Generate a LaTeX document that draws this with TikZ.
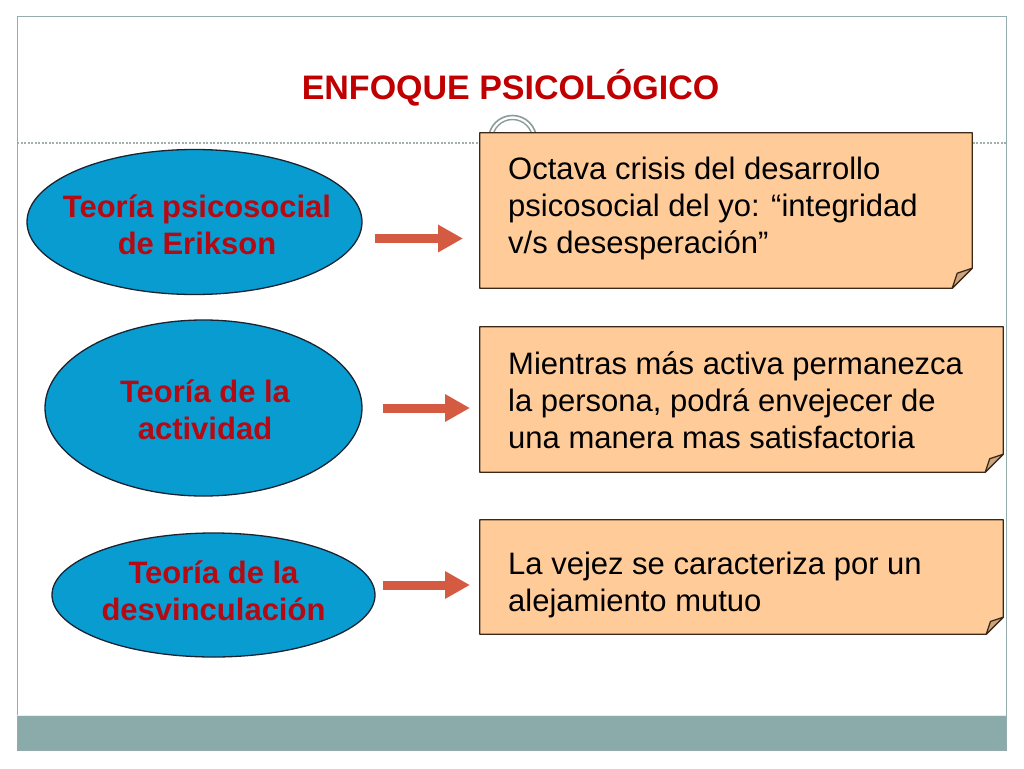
\documentclass[tikz,border=0pt]{standalone}
\usepackage{fontspec}
\setmainfont{Liberation Sans}
\usetikzlibrary{shapes.geometric,arrows.meta,backgrounds}
\definecolor{titlered}{RGB}{192,0,0}
\definecolor{ellred}{RGB}{180,10,20}
\definecolor{ellfill}{RGB}{8,156,208}
\definecolor{elldraw}{RGB}{25,35,50}
\definecolor{boxfill}{RGB}{255,204,153}
\definecolor{boxdraw}{RGB}{60,40,25}
\definecolor{foldfill}{RGB}{205,165,125}
\definecolor{arrowc}{RGB}{213,90,66}
\definecolor{footer}{RGB}{139,171,171}
\definecolor{framec}{RGB}{150,172,172}
\definecolor{dashc}{RGB}{165,175,175}
\definecolor{ringc}{RGB}{140,155,155}
\tikzset{
  ellshape/.style={ellipse, draw=elldraw, line width=1.3pt, fill=ellfill, inner sep=0pt},
  elltext/.style={text=ellred, font=\fontsize{31}{37}\selectfont\bfseries, align=center},
  boxnode/.style={inner sep=0pt},
  boxtext/.style={anchor=west, inner sep=0pt, font=\fontsize{31}{37}\selectfont, align=left, text=black},
  boxshape/.style={fill=boxfill, draw=boxdraw, line width=1.3pt, line join=round},
  foldshape/.style={fill=foldfill, draw=boxdraw, line width=1.3pt, line join=round},
  arr/.style={draw=arrowc, line width=9pt, -{Triangle[length=25pt,width=26pt]}},
}
\newcommand{\foldbg}[2]{%
  \begin{pgfonlayer}{background}
    \path[boxshape] (#1.north west) -- (#1.north east) -- ([yshift=#2pt]#1.south east)
      -- ([xshift=-#2pt]#1.south east) -- (#1.south west) -- cycle;
    \path[foldshape] ([xshift=-#2pt]#1.south east) -- ([xshift=-0.75*#2pt,yshift=0.75*#2pt]#1.south east)
      -- ([yshift=#2pt]#1.south east) -- cycle;
  \end{pgfonlayer}}
\begin{document}
\begin{tikzpicture}[x=1pt,y=-1pt]
\useasboundingbox (0,0) rectangle (1024,768);
% slide frame and decorations
\begin{pgfonlayer}{background}
\fill[white] (0,0) rectangle (1024,768);
\draw[dashc, line width=1.5pt, dash pattern=on 2pt off 1.5pt] (17,143) -- (1006,143);
\draw[ringc, line width=1.6pt] (512.5,139.5) circle (24);
\draw[ringc, line width=1.4pt] (512.5,139.5) circle (20);
\end{pgfonlayer}
\fill[footer] (17,715) rectangle (1006,750);
\draw[framec, line width=1pt] (17,17) rectangle (1006,750);
\draw[white!80!footer, line width=1pt] (17,715) -- (1006,715);

% title
\node[text=titlered, font=\fontsize{34}{40}\selectfont\bfseries, anchor=base] (title) at (510.5,99) {ENFOQUE PSICOLÓGICO};

% ellipses
\node[ellshape, minimum width=335pt, minimum height=145pt] (e1) at (194.5,222) {};
\node[elltext] (t1) at (197,225) {Teoría psicosocial\\de Erikson};
\node[ellshape, minimum width=317pt, minimum height=176pt] (e2) at (203.5,408) {};
\node[elltext] (t2) at (205,409.5) {Teoría de la\\actividad};
\node[ellshape, minimum width=323pt, minimum height=124pt] (e3) at (213.5,595) {};
\node[elltext] (t3) at (213.5,591) {Teoría de la\\desvinculación};

% boxes
\node[boxnode, minimum width=492pt, minimum height=155pt] (b1) at (726,210.5) {};
\foldbg{b1}{20}
\node[boxtext] (bt1) at (508,208.5)
  {Octava crisis del desarrollo\\psicosocial del yo: “integridad\\v/s desesperación”};
\node[boxnode, minimum width=523pt, minimum height=145pt] (b2) at (741.5,399.5) {};
\foldbg{b2}{18}
\node[boxtext] (bt2) at (508,400.5)
  {Mientras más activa permanezca\\la persona, podrá envejecer de\\una manera mas satisfactoria};
\node[boxnode, minimum width=523pt, minimum height=114pt] (b3) at (741.5,577) {};
\foldbg{b3}{17}
\node[boxtext] (bt3) at (508,585)
  {La vejez se caracteriza por un\\alejamiento mutuo};

% arrows
\coordinate (a1s) at (375,238.5);
\coordinate (a1e) at (463,238.5);
\coordinate (a2s) at (383,408);
\coordinate (a2e) at (470,408);
\coordinate (a3s) at (383,585);
\coordinate (a3e) at (470,585);
\draw[arr] (a1s) -- (a1e);
\draw[arr] (a2s) -- (a2e);
\draw[arr] (a3s) -- (a3e);
\end{tikzpicture}
\end{document}
